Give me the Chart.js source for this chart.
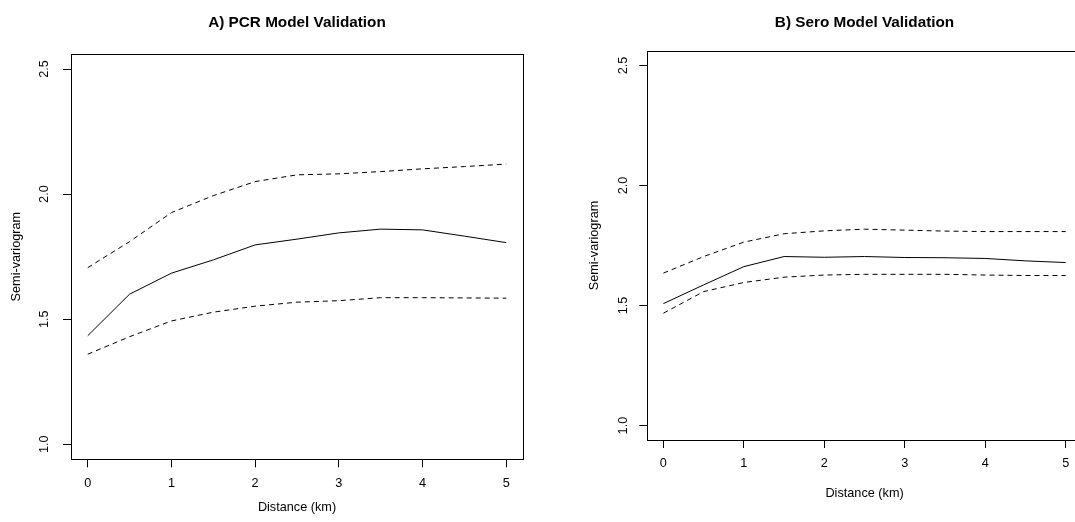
<!DOCTYPE html>
<html>
<head>
<meta charset="utf-8">
<script src="https://cdn.jsdelivr.net/npm/chart.js@4.4.1/dist/chart.umd.min.js"></script>
<style>
  html, body { margin: 0; padding: 0; background: #fff; overflow: hidden; }
  body { width: 1075px; height: 522px; position: relative; }
  canvas { position: absolute; top: 0; }
  #pcr { left: 0; }
  #sero { left: 560px; }
</style>
</head>
<body>
<canvas id="pcr" width="594" height="522"></canvas>
<canvas id="sero" width="609" height="522"></canvas>
<script type="text/javascript">

    // Distance (km)
    var distancias = [0, 0.5, 1, 1.5, 2, 2.5, 3, 3.5, 4, 4.5, 5];
    var ticksX = [0, 1, 2, 3, 4, 5];
    var ticksY = [1.0, 1.5, 2.0, 2.5];

    // A) PCR
    var pcrMedio    = [1.434, 1.600, 1.684, 1.737, 1.797, 1.820, 1.845, 1.860, 1.857, 1.832, 1.806];
    var pcrSuperior = [1.706, 1.810, 1.926, 1.994, 2.050, 2.077, 2.081, 2.090, 2.101, 2.110, 2.120];
    var pcrInferior = [1.360, 1.430, 1.493, 1.528, 1.552, 1.568, 1.574, 1.586, 1.586, 1.585, 1.584];

    // B) Sero
    var seroMedio    = [1.508, 1.586, 1.662, 1.704, 1.701, 1.704, 1.700, 1.699, 1.696, 1.686, 1.679];
    var seroSuperior = [1.635, 1.704, 1.764, 1.799, 1.811, 1.818, 1.814, 1.810, 1.808, 1.808, 1.808];
    var seroInferior = [1.468, 1.558, 1.596, 1.618, 1.627, 1.630, 1.630, 1.630, 1.627, 1.625, 1.625];

    var fuente = "'Liberation Sans', Arial, Helvetica, sans-serif";
    var alto = 522;

    function crearGrafica(id, titulo, medio, superior, inferior, caja) {
        function linea(valores, guiones) {
            return {
                data: distancias.map(function (d, i) { return { x: d, y: valores[i] }; }),
                borderColor: '#000',
                borderWidth: 1,
                borderDash: guiones,
                pointRadius: 0,
                tension: 0,
                fill: false
            };
        }
        // lados superior y derecho de la caja
        function marco(ancho, vertical, borde) {
            return {
                type: 'linear',
                display: true,
                position: vertical ? 'right' : 'top',
                min: vertical ? 0.94 : -0.2,
                max: vertical ? 2.56 : 5.2,
                ticks: { display: false },
                grid: { display: false, drawTicks: false },
                border: { display: borde, color: '#000', width: 1 },
                afterFit: function (s) { if (vertical) s.width = ancho; else s.height = 0; }
            };
        }
        return new Chart(document.getElementById(id), {
            type: 'line',
            data: { datasets: [linea(superior, [5, 4]), linea(medio, []), linea(inferior, [5, 4])] },
            options: {
                responsive: false,
                animation: false,
                layout: { padding: 0 },
                plugins: {
                    legend: { display: false },
                    tooltip: { enabled: false },
                    title: {
                        display: true,
                        text: titulo,
                        color: '#000',
                        font: { family: fuente, size: 15.3, weight: 'bold' },
                        padding: { top: 13.3, bottom: caja.top - 13.3 - 18.36 }
                    }
                },
                scales: {
                    x: {
                        type: 'linear',
                        position: 'bottom',
                        min: -0.2,
                        max: 5.2,
                        afterBuildTicks: function (s) { s.ticks = ticksX.map(function (v) { return { value: v }; }); },
                        afterFit: function (s) { s.height = alto - caja.bottom; },
                        grid: { drawOnChartArea: false, drawTicks: true, tickLength: 8, color: '#000' },
                        border: { display: true, color: '#000', width: 1 },
                        ticks: {
                            color: '#000',
                            font: { family: fuente, size: 12.7 },
                            padding: caja.xTickPad,
                            maxRotation: 0,
                            autoSkip: false,
                            callback: function (v) { return String(v); }
                        },
                        title: {
                            display: true,
                            text: 'Distance (km)',
                            color: '#000',
                            font: { family: fuente, size: 12.7 },
                            padding: { top: 0, bottom: caja.xTitlePad }
                        }
                    },
                    y: {
                        type: 'linear',
                        position: 'left',
                        min: 0.94,
                        max: 2.56,
                        afterBuildTicks: function (s) { s.ticks = ticksY.map(function (v) { return { value: v }; }); },
                        afterFit: function (s) { s.width = caja.left; },
                        grid: { drawOnChartArea: false, drawTicks: true, tickLength: 8, color: '#000' },
                        border: { display: true, color: '#000', width: 1 },
                        ticks: {
                            color: '#000',
                            font: { family: fuente, size: 12.7 },
                            padding: caja.yTickPad,
                            minRotation: 90,
                            maxRotation: 90,
                            crossAlign: 'center',
                            autoSkip: false,
                            callback: function (v) { return v.toFixed(1); }
                        },
                        title: {
                            display: true,
                            text: 'Semi-variogram',
                            color: '#000',
                            font: { family: fuente, size: 12.7 },
                            padding: { top: caja.yTitlePad, bottom: 0 }
                        }
                    },
                    x2: marco(0, false, true),
                    y2: marco(caja.right, true, caja.bordeDerecho)
                }
            }
        });
    }

    crearGrafica('pcr', 'A) PCR Model Validation', pcrMedio, pcrSuperior, pcrInferior,
        { top: 54, bottom: 459.3, left: 71, right: 71, bordeDerecho: true,
          xTickPad: 8.8, xTitlePad: 6.4, yTickPad: 9.7, yTitlePad: 8.4 });

    // the right side of panel B falls outside the picture
    crearGrafica('sero', 'B) Sero Model Validation', seroMedio, seroSuperior, seroInferior,
        { top: 51, bottom: 440, left: 87.3, right: 87.2, bordeDerecho: false,
          xTickPad: 8.1, xTitlePad: 20.9, yTickPad: 6.8, yTitlePad: 26.9 });

</script>
</body>
</html>
